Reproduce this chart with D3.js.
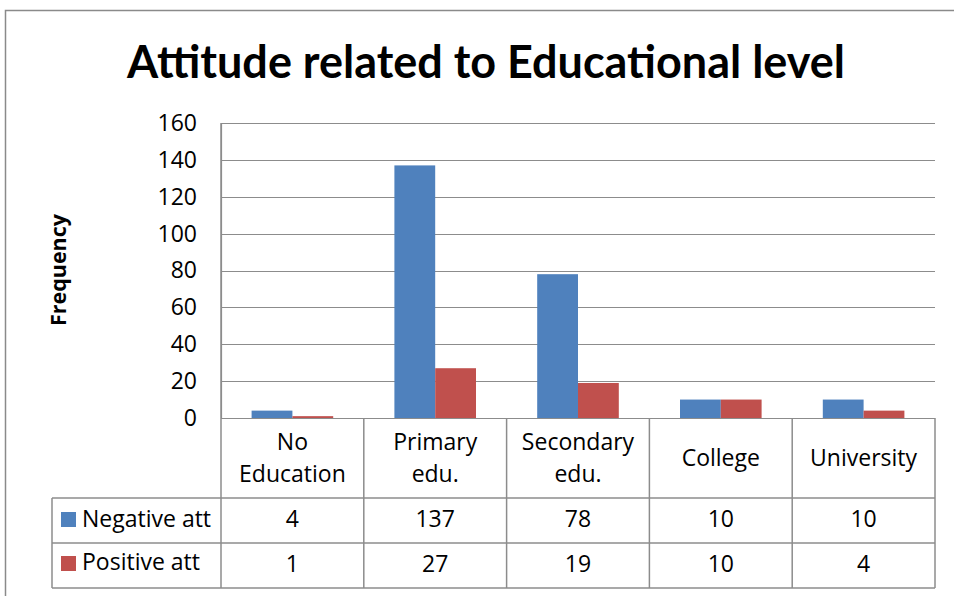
<!DOCTYPE html>
<meta charset="utf-8">
<style>
body { margin: 0; background: #fff; }
text { font-family: "Open Sans", sans-serif; fill: #000; }
</style>
<svg></svg>
<script src="https://d3js.org/d3.v7.min.js"></script>
<script>

var categories = ["No Education", "Primary edu.", "Secondary edu.", "College", "University"];
var catLines = [["No", "Education"], ["Primary", "edu."], ["Secondary", "edu."], ["College"], ["University"]];
var seriesNames = ["Negative att", "Positive att"];
var negative = [4, 137, 78, 10, 10];
var positive = [1, 27, 19, 10, 4];
var yTicks = [0, 20, 40, 60, 80, 100, 120, 140, 160];
var colors = ["#4F81BD", "#C0504D"];

var width = 954, height = 596;
var plot = {left: 221, right: 935, top: 123, bottom: 418};
var headerBottom = 498, row1Bottom = 543, row2Bottom = 588, legendLeft = 52;
var lineColor = "#8c8c8c";
var fs = "23px";

var svg = d3.select("svg").attr("width", width).attr("height", height);

// chart frame
svg.append("rect")
    .attr("x", 5.5).attr("y", 10.5)
    .attr("width", 1000).attr("height", 1000)
    .attr("fill", "none").attr("stroke", "#8a8a8a").attr("stroke-width", 1.5);

var x = d3.scaleBand().domain(categories).range([plot.left, plot.right]);
var xs = d3.scaleBand().domain(seriesNames).range([0, x.bandwidth()]).paddingInner(0).paddingOuter(0.75);
var y = d3.scaleLinear().domain([0, 160]).range([plot.bottom, plot.top]);

// title, fitted to the width it has in the original
var title = svg.append("text")
    .attr("x", 486).attr("y", 78)
    .attr("text-anchor", "middle")
    .style("font-family", "Lato, sans-serif")
    .style("font-weight", "bold").style("font-size", "42px")
    .text("Attitude related to Educational level");
var tw = title.node().getComputedTextLength();
title.style("font-size", (42 * 718 / tw) + "px");

// gridlines
svg.append("g").selectAll("line").data(yTicks).join("line")
    .attr("x1", plot.left).attr("x2", plot.right)
    .attr("y1", d => Math.round(y(d)) + 0.5).attr("y2", d => Math.round(y(d)) + 0.5)
    .attr("stroke", lineColor).attr("stroke-width", 1.2);

// y axis
var yAxis = svg.append("g")
    .attr("transform", "translate(" + plot.left + ",0)")
    .call(d3.axisLeft(y).tickValues(yTicks).tickSize(0).tickPadding(24));
yAxis.select(".domain").attr("stroke", lineColor).attr("stroke-width", 1.2);
yAxis.selectAll("text").style("font-size", fs).attr("font-family", null).attr("fill", "#000");

var ylab = svg.append("text")
    .attr("transform", "translate(66,270) rotate(-90)")
    .attr("text-anchor", "middle")
    .style("font-weight", "bold").style("font-size", "18px")
    .text("Frequency");
var lw = ylab.node().getComputedTextLength();
ylab.style("font-size", (18 * 112 / lw) + "px");

// bars
var data = categories.map((c, i) => ({cat: c, vals: [negative[i], positive[i]]}));
var groups = svg.append("g").selectAll("g").data(data).join("g")
    .attr("transform", d => "translate(" + x(d.cat) + ",0)");
groups.selectAll("rect").data(d => d.vals.map((v, j) => ({s: seriesNames[j], v: v, j: j}))).join("rect")
    .attr("x", d => xs(d.s))
    .attr("width", xs.bandwidth())
    .attr("y", d => y(d.v))
    .attr("height", d => y(0) - y(d.v))
    .attr("fill", d => colors[d.j]);

// data table
var t = svg.append("g").attr("stroke", lineColor).attr("stroke-width", 1.5);
var hline = (x1, x2, yy) => t.append("line").attr("x1", x1).attr("x2", x2).attr("y1", yy).attr("y2", yy);
var vline = (xx, y1, y2) => t.append("line").attr("x1", xx).attr("x2", xx).attr("y1", y1).attr("y2", y2);
hline(legendLeft, plot.right, headerBottom);
hline(legendLeft, plot.right, row1Bottom);
hline(legendLeft, plot.right, row2Bottom);
vline(legendLeft, headerBottom, row2Bottom);
vline(plot.left, plot.top, row2Bottom);
categories.forEach(c => vline(x(c) + x.bandwidth(), plot.bottom, row2Bottom));

// category labels
var catText = svg.append("g").selectAll("text").data(catLines).join("text")
    .attr("text-anchor", "middle")
    .style("font-size", fs)
    .attr("x", (d, i) => x(categories[i]) + x.bandwidth() / 2);
catText.each(function(d) {
  var el = d3.select(this);
  var y0 = d.length === 1 ? 466 : 450;
  d.forEach((line, k) => el.append("tspan")
      .attr("x", el.attr("x")).attr("y", y0 + k * 32).text(line));
});

// rows
var rows = [negative, positive];
var rowY = [527, 572];
rows.forEach((vals, r) => {
  svg.append("rect")
      .attr("x", 61).attr("y", rowY[r] - 15 - r * 1)
      .attr("width", 15).attr("height", 15)
      .attr("fill", colors[r]);
  svg.append("text")
      .attr("x", 82).attr("y", rowY[r] - r * 2)
      .style("font-size", fs)
      .text(seriesNames[r]);
  svg.append("g").selectAll("text").data(vals).join("text")
      .attr("text-anchor", "middle")
      .style("font-size", fs)
      .attr("x", (d, i) => x(categories[i]) + x.bandwidth() / 2)
      .attr("y", rowY[r])
      .text(d => d);
});

</script>
